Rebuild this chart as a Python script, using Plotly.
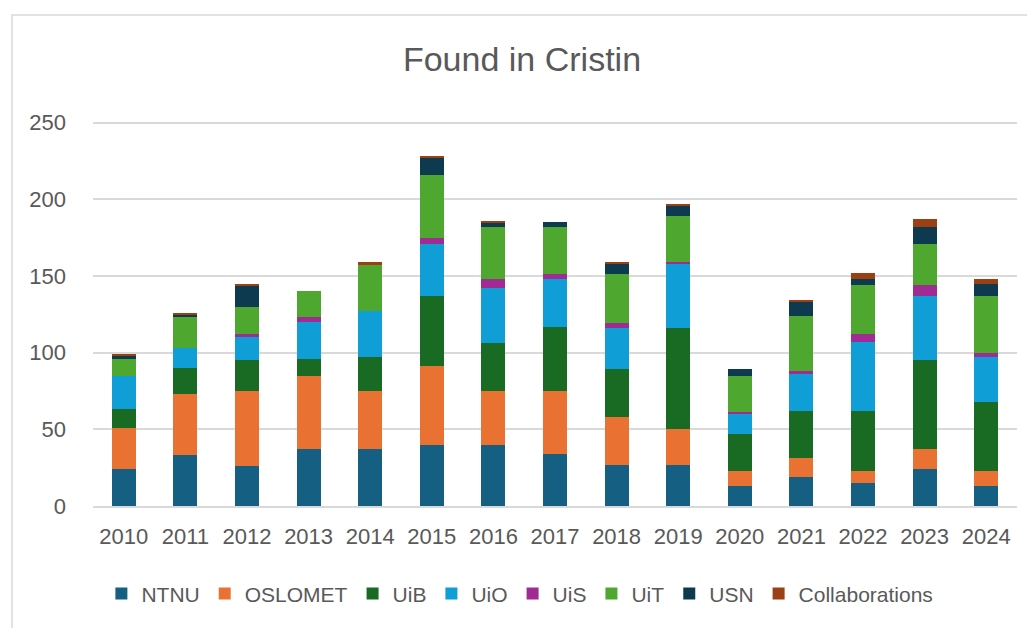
import plotly.graph_objects as go

years = ["2010", "2011", "2012", "2013", "2014", "2015", "2016", "2017",
         "2018", "2019", "2020", "2021", "2022", "2023", "2024"]

ntnu = [24, 33, 26, 37, 37, 40, 40, 34, 27, 27, 13, 19, 15, 24, 13]
oslomet = [27, 40, 49, 48, 38, 51, 35, 41, 31, 23, 10, 12, 8, 13, 10]
uib = [12, 17, 20, 11, 22, 46, 31, 42, 31, 66, 24, 31, 39, 58, 45]
uio = [22, 13, 15, 24, 30, 34, 36, 31, 27, 42, 13, 24, 45, 42, 29]
uis = [0, 0, 2, 3, 0, 4, 6, 3, 3, 1, 1, 2, 5, 7, 3]
uit = [11, 20, 18, 17, 30, 41, 34, 31, 32, 30, 24, 36, 32, 27, 37]
usn = [2, 2, 14, 0, 0, 11, 3, 3, 7, 7, 4, 9, 4, 11, 8]
collaborations = [1, 1, 1, 0, 2, 1, 1, 0, 1, 1, 0, 1, 4, 5, 3]

series = [
    ("NTNU", ntnu, "#156082"),
    ("OSLOMET", oslomet, "#E97132"),
    ("UiB", uib, "#196B24"),
    ("UiO", uio, "#0F9ED5"),
    ("UiS", uis, "#A02B93"),
    ("UiT", uit, "#4EA72E"),
    ("USN", usn, "#0E3A4F"),
    ("Collaborations", collaborations, "#9B4012"),
]

FONT = "Liberation Sans, Arial, sans-serif"
TXT = "#595959"

fig = go.Figure()
for name, vals, color in series:
    fig.add_trace(go.Bar(x=years, y=vals, name=name, marker_color=color,
                         marker_line_width=0))

W, H = 1027, 620
fig.update_layout(
    barmode="stack",
    bargap=0.61,
    width=W, height=H,
    margin=dict(l=85, r=18, t=113, b=122, autoexpand=False),
    paper_bgcolor="white", plot_bgcolor="white",
    font=dict(family=FONT, color=TXT),
    title=dict(text="Found in Cristin", x=514 / W, xref="container", xanchor="center",
               y=1 - 51 / H, yref="container", yanchor="middle",
               font=dict(size=34, color=TXT, family=FONT)),
    legend=dict(orientation="h", x=0.462, xanchor="center", y=-0.228, yanchor="middle",
                font=dict(size=21, color=TXT, family=FONT), traceorder="normal",
                itemwidth=30),
    showlegend=True,
    shapes=[dict(type="rect", xref="paper", yref="paper",
                 x0=-0.0877, x1=1.05, y0=-0.4, y1=1.2753,
                 line=dict(color="#D9D9D9", width=1.5), fillcolor="rgba(0,0,0,0)",
                 layer="below")],
)
fig.update_xaxes(showgrid=False, showline=True, linecolor="#D9D9D9", linewidth=1.5,
                 tickfont=dict(size=22, color=TXT), ticks="", ticklabelstandoff=10,
                 automargin=False)
fig.update_yaxes(range=[0, 251], dtick=50, showgrid=True, gridcolor="#D9D9D9",
                 gridwidth=1.5, zeroline=False, showline=False,
                 tickfont=dict(size=22, color=TXT), ticklabelstandoff=26,
                 automargin=False)

fig.write_html("out.html")
